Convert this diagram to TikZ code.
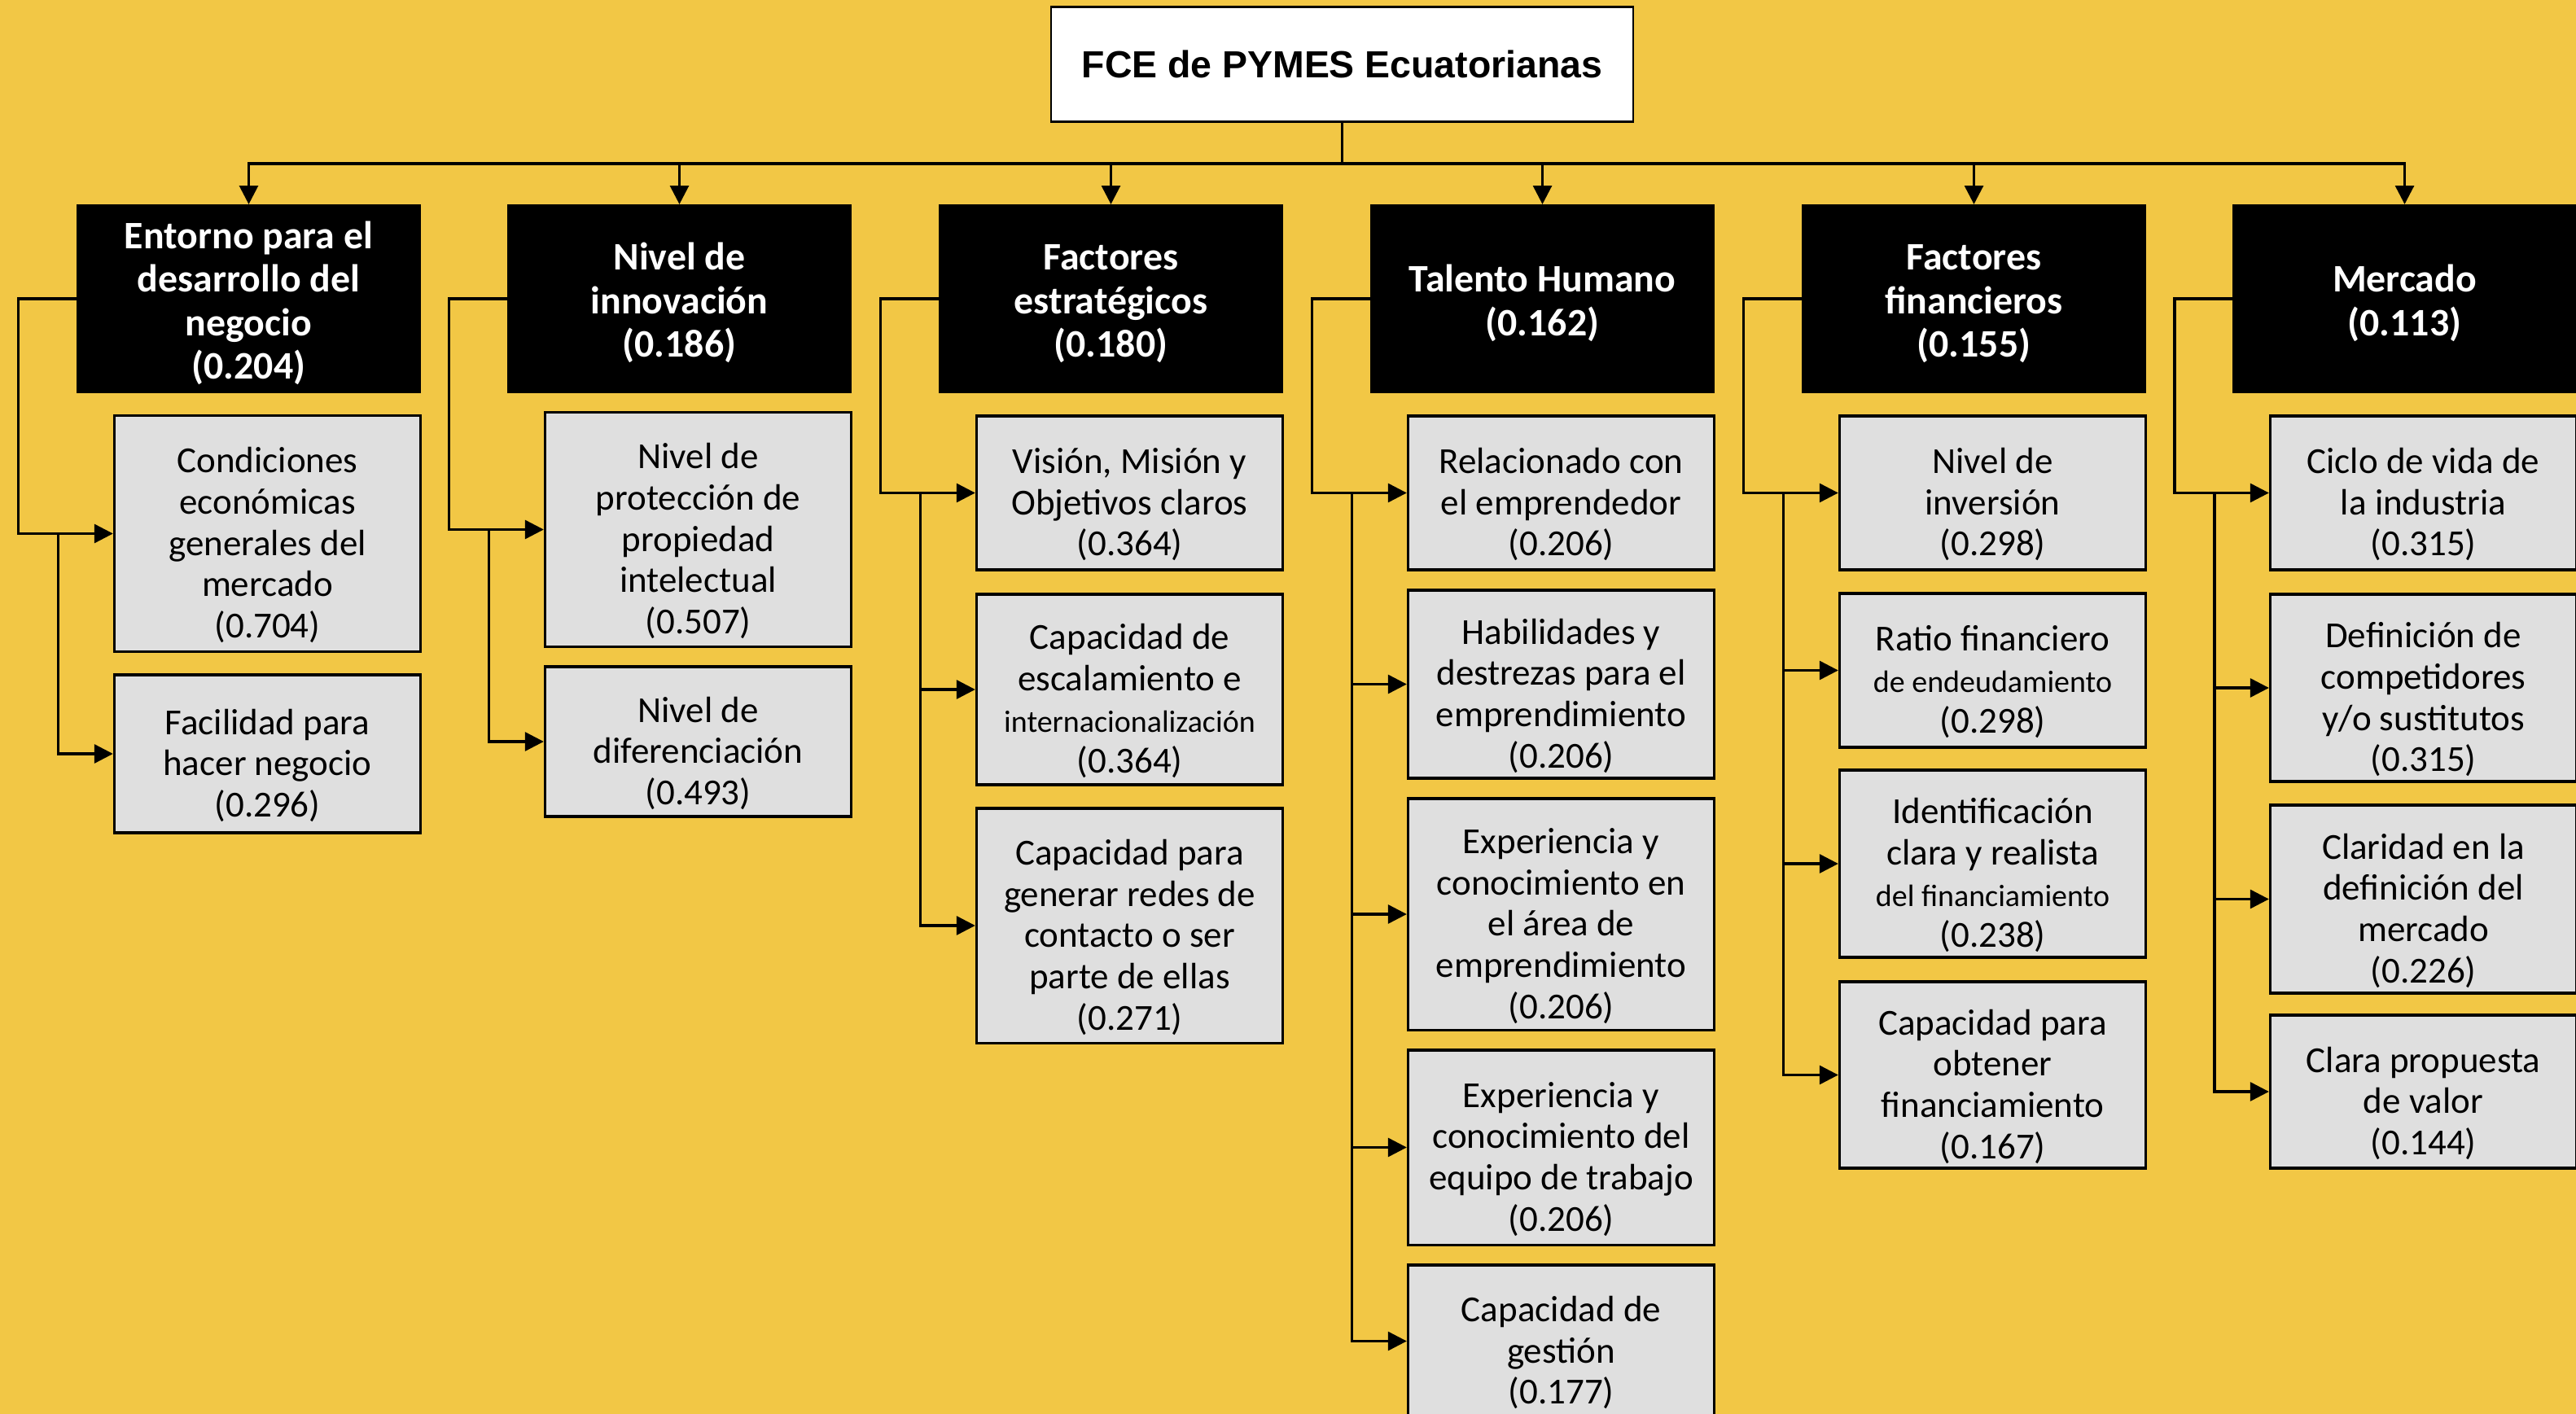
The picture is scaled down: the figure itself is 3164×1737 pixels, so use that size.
\documentclass[tikz,border=0pt]{standalone}
\usepackage{fontspec}
\setmainfont{Carlito}
\newfontfamily\titlefont{Liberation Sans}
\usetikzlibrary{arrows.meta}
\definecolor{fondo}{RGB}{242,199,69}
\definecolor{gris}{RGB}{223,223,223}
\newcommand{\chico}[1]{{\fontsize{10.8}{14.4}\selectfont #1}}
\newcommand{\tope}{\rule{0pt}{17pt}}
\newcommand{\topef}{\rule{0pt}{12.5pt}}

\begin{document}
\begin{tikzpicture}[x=0.01cm,y=-0.01cm,line width=0.9pt,
    raiz/.style={draw,fill=white,line width=0.6pt,minimum width=7.14cm,minimum height=1.41cm,
      font=\titlefont\bfseries\fontsize{13.2}{15}\selectfont},
    factor/.style={fill=black,text=white,minimum width=4.23cm,minimum height=2.32cm,inner sep=0pt,
      outer sep=0pt,align=center,font=\bfseries\fontsize{13.6}{15.2}\selectfont},
    caja/.style={draw,fill=gris,minimum width=3.76cm,minimum height=#1,inner sep=0pt,align=center,
      font=\fontsize{12.8}{14.4}\selectfont},
    flecha/.style={-{Triangle[length=6.5pt,width=6.5pt]}}]
    \useasboundingbox (0,0) rectangle (3164,1737);
    \clip (0,0) rectangle (3164,1737);
    \fill[fondo] (0,0) rectangle (3164,1737);

    \node[raiz] (fce) at (1648.5,79) {FCE de PYMES Ecuatorianas};

    \node[factor] (entorno) at (305.5,367) {\topef Entorno para el\\desarrollo del\\negocio\\(0.204)};
    \node[factor] (innov) at (834.5,367) {\topef Nivel de\\innovación\\(0.186)};
    \node[factor] (estrat) at (1364.5,367) {\topef Factores\\estratégicos\\(0.180)};
    \node[factor] (talento) at (1894.5,367) {\topef Talento Humano\\(0.162)};
    \node[factor] (financ) at (2424.5,367) {\topef Factores\\financieros\\(0.155)};
    \node[factor] (mercado) at (2953.5,367) {\topef Mercado\\(0.113)};

    \node[caja=2.89cm] (e1) at (328.5,655.5) {\tope Condiciones\\económicas\\generales del\\mercado\\(0.704)};
    \node[caja=1.94cm] (e2) at (328.5,926) {\tope Facilidad para\\hacer negocio\\(0.296)};

    \node[caja=2.87cm] (n1) at (857.5,650.5) {\tope Nivel de\\protección de\\propiedad\\intelectual\\(0.507)};
    \node[caja=1.84cm] (n2) at (857.5,911) {\tope Nivel de\\diferenciación\\(0.493)};

    \node[caja=1.89cm] (s1) at (1387.5,605.5) {\tope Visión, Misión y\\Objetivos claros\\(0.364)};
    \node[caja=2.34cm] (s2) at (1387.5,847) {\tope Capacidad de\\escalamiento e\\\chico{internacionalización}\\(0.364)};
    \node[caja=2.88cm] (s3) at (1387.5,1137) {\tope Capacidad para\\generar redes de\\contacto o ser\\parte de ellas\\(0.271)};

    \node[caja=1.89cm] (t1) at (1917.5,605.5) {\tope Relacionado con\\el emprendedor\\(0.206)};
    \node[caja=2.31cm] (t2) at (1917.5,840.5) {\tope Habilidades y\\destrezas para el\\emprendimiento\\(0.206)};
    \node[caja=2.84cm] (t3) at (1917.5,1123) {\tope Experiencia y\\conocimiento en\\el área de\\emprendimiento\\(0.206)};
    \node[caja=2.39cm] (t4) at (1917.5,1409.5) {\tope Experiencia y\\conocimiento del\\equipo de trabajo\\(0.206)};
    \node[caja=1.87cm] (t5) at (1917.5,1647.5) {\tope Capacidad de\\gestión\\(0.177)};

    \node[caja=1.89cm] (f1) at (2447.5,605.5) {\tope Nivel de\\inversión\\(0.298)};
    \node[caja=1.89cm] (f2) at (2447.5,823.5) {\tope Ratio financiero\\\chico{de endeudamiento}\\(0.298)};
    \node[caja=2.30cm] (f3) at (2447.5,1061) {\tope Identificación\\clara y realista\\\chico{del financiamiento}\\(0.238)};
    \node[caja=2.29cm] (f4) at (2447.5,1320.5) {\tope Capacidad para\\obtener\\financiamiento\\(0.167)};

    \node[caja=1.89cm] (m1) at (2976.5,605.5) {\tope Ciclo de vida de\\la industria\\(0.315)};
    \node[caja=2.30cm] (m2) at (2976.5,845) {\tope Definición de\\competidores\\y/o sustitutos\\(0.315)};
    \node[caja=2.31cm] (m3) at (2976.5,1104.5) {\tope Claridad en la\\definición del\\mercado\\(0.226)};
    \node[caja=1.88cm] (m4) at (2976.5,1341) {\tope Clara propuesta\\de valor\\(0.144)};

    \coordinate (bus) at (1648.5,201);
    \draw (fce.south) -- (bus);
    \foreach \h in {entorno,innov,estrat,talento,financ,mercado}
      \draw[flecha] (bus) -| (\h.north);

    \draw[flecha] (entorno.west) -- ++(-71,0) |- (e1.west);
    \path (entorno.west) ++(-22,0) coordinate (je);
    \draw[flecha] (je |- e1.west) |- (e2.west);

    \draw[flecha] (innov.west) -- ++(-71,0) |- (n1.west);
    \path (innov.west) ++(-22,0) coordinate (jn);
    \draw[flecha] (jn |- n1.west) |- (n2.west);

    \draw[flecha] (estrat.west) -- ++(-71,0) |- (s1.west);
    \path (estrat.west) ++(-22,0) coordinate (js);
    \foreach \c in {s2,s3}
      \draw[flecha] (js |- s1.west) |- (\c.west);

    \draw[flecha] (talento.west) -- ++(-71,0) |- (t1.west);
    \path (talento.west) ++(-22,0) coordinate (jt);
    \foreach \c in {t2,t3,t4,t5}
      \draw[flecha] (jt |- t1.west) |- (\c.west);

    \draw[flecha] (financ.west) -- ++(-71,0) |- (f1.west);
    \path (financ.west) ++(-22,0) coordinate (jf);
    \foreach \c in {f2,f3,f4}
      \draw[flecha] (jf |- f1.west) |- (\c.west);

    \draw[flecha] (mercado.west) -- ++(-71,0) |- (m1.west);
    \path (mercado.west) ++(-22,0) coordinate (jm);
    \foreach \c in {m2,m3,m4}
      \draw[flecha] (jm |- m1.west) |- (\c.west);
  \end{tikzpicture}
\end{document}
